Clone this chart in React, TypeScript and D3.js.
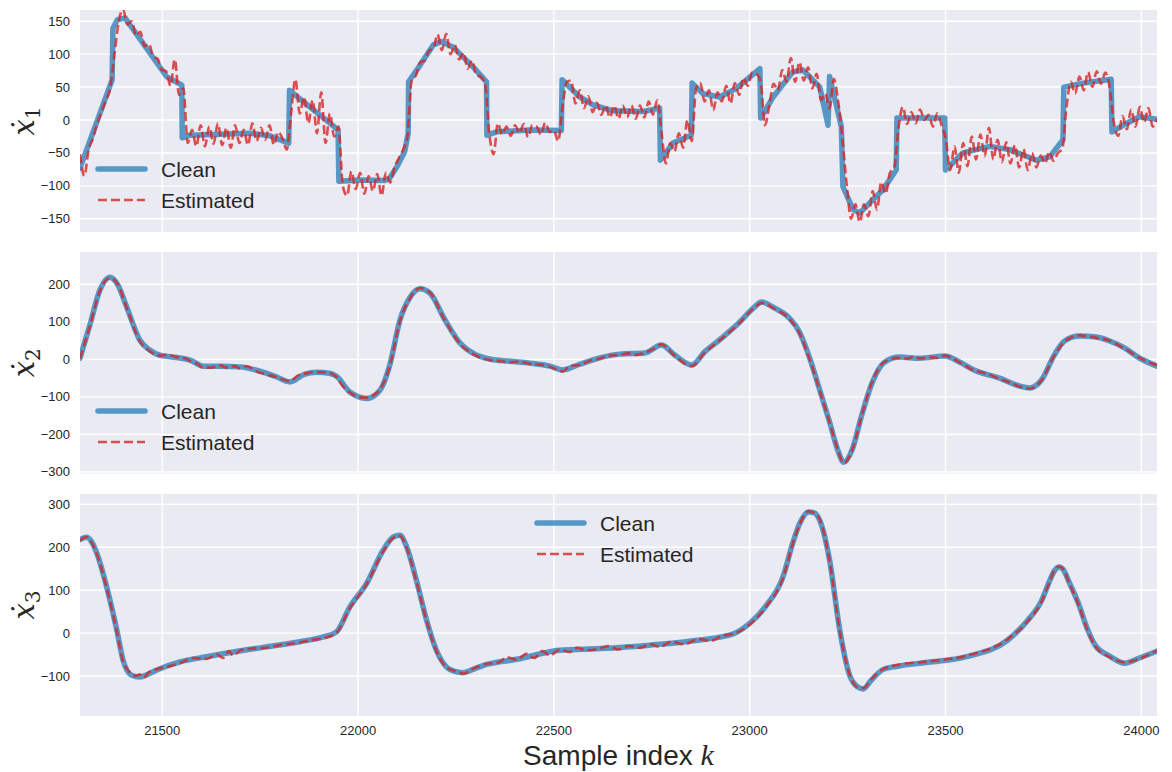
import React from 'react';
import * as d3 from 'd3';

type Pt = [number, number];

const X_DOMAIN: [number, number] = [21290, 24040];
const X_TICKS = [21500, 22000, 22500, 23000, 23500, 24000];
const Y1_TICKS = [-150, -100, -50, 0, 50, 100, 150];
const Y2_TICKS = [-300, -200, -100, 0, 100, 200];
const Y3_TICKS = [-100, 0, 100, 200, 300];
const SERIES_NAMES = ['Clean', 'Estimated'];
const X_LABEL = 'Sample index ';

const clean1: Pt[] = [
  [21290, -73], [21372, 61], [21374, 139], [21385, 152], [21405, 155], [21511, 66], [21550, 53],
  [21551, -27], [21571, -23], [21724, -20], [21775, -24], [21823, -35], [21825, 45], [21949, -15],
  [21951, -93], [22005, -91], [22068, -92], [22081, -88], [22100, -70], [22119, -48], [22128, -20],
  [22129, 58], [22158, 83], [22192, 114], [22213, 119], [22242, 111], [22293, 81], [22328, 58],
  [22329, -23], [22354, -18], [22439, -15], [22519, -16], [22521, 61], [22566, 35], [22600, 23],
  [22651, 14], [22728, 13], [22770, 18], [22772, -61], [22804, -35], [22851, -23], [22853, 56],
  [22881, 40], [22923, 35], [22966, 48], [23026, 78], [23028, 3], [23060, 35], [23110, 73],
  [23136, 76], [23179, 50], [23200, -8], [23204, 66], [23234, -10], [23238, -101], [23264, -136],
  [23281, -141], [23340, -106], [23374, -76], [23376, 3], [23498, 3], [23500, -76], [23544, -50],
  [23613, -40], [23664, -45], [23732, -61], [23766, -56], [23800, -30], [23802, 50], [23851, 56],
  [23923, 62], [23925, -18], [23953, -8], [23995, 5], [24040, 1],
];

const est1: Pt[] = [
  [21290, -52], [21301, -85], [21312, -45], [21323, -28], [21334, -5], [21345, 12], [21356, 30], [21367, 48],
  [21378, 100], [21389, 150], [21400, 168], [21411, 145], [21422, 150], [21433, 128], [21444, 134], [21455, 112],
  [21466, 116], [21477, 96], [21488, 93], [21499, 76], [21510, 74], [21521, 52], [21532, 92], [21543, 38],
  [21554, 48], [21565, -35], [21576, -15], [21587, -40], [21598, -8], [21609, -40], [21620, -10], [21631, -36],
  [21642, -5], [21653, -38], [21664, -12], [21675, -42], [21686, -8], [21697, -35], [21708, -15], [21719, -38],
  [21730, -5], [21741, -32], [21752, -12], [21763, -30], [21774, -8], [21785, -38], [21796, -18], [21807, -28],
  [21818, -45], [21829, 10], [21840, 62], [21851, 10], [21862, 35], [21873, -5], [21884, 30], [21895, -20],
  [21906, 42], [21917, -35], [21928, 10], [21939, -25], [21950, -10], [21961, -100], [21972, -115], [21983, -78],
  [21994, -105], [22005, -80], [22016, -112], [22027, -85], [22038, -108], [22049, -82], [22060, -115], [22071, -80],
  [22082, -95], [22093, -72], [22104, -58], [22115, -45], [22126, -25], [22137, 60], [22148, 68], [22159, 88],
  [22170, 90], [22181, 105], [22192, 108], [22203, 130], [22214, 106], [22225, 131], [22236, 100], [22247, 114],
  [22258, 92], [22269, 102], [22280, 78], [22291, 90], [22302, 68], [22313, 66], [22324, 55], [22335, -20],
  [22346, -52], [22357, -5], [22368, -22], [22379, -10], [22390, -24], [22401, -8], [22412, -20], [22423, -6],
  [22434, -26], [22445, -8], [22456, -10], [22467, -22], [22478, -4], [22489, -18], [22500, -16], [22511, -32],
  [22522, 20], [22533, 58], [22544, 60], [22555, 25], [22566, 45], [22577, 18], [22588, 36], [22599, 12],
  [22610, 26], [22621, 8], [22632, 22], [22643, 4], [22654, 22], [22665, 2], [22676, 22], [22687, 4],
  [22698, 22], [22709, 2], [22720, 22], [22731, 4], [22742, 28], [22753, 8], [22764, 30], [22775, -20],
  [22786, -66], [22797, -35], [22808, -48], [22819, -20], [22830, -42], [22841, 0], [22852, -32], [22863, 48],
  [22874, 56], [22885, 28], [22896, 45], [22907, 15], [22918, 42], [22929, 28], [22940, 52], [22951, 25],
  [22962, 56], [22973, 38], [22984, 64], [22995, 52], [23006, 72], [23017, 70], [23028, 58], [23039, -8],
  [23050, 22], [23061, 55], [23072, 45], [23083, 76], [23094, 58], [23105, 94], [23116, 58], [23127, 88],
  [23138, 60], [23149, 80], [23160, 48], [23171, 70], [23182, 30], [23193, 40], [23204, 18], [23215, 62],
  [23226, 28], [23237, -30], [23248, -100], [23259, -150], [23270, -128], [23281, -155], [23292, -128], [23303, -146],
  [23314, -108], [23325, -136], [23336, -94], [23347, -112], [23358, -80], [23369, -72], [23380, -12], [23391, 20],
  [23402, -6], [23413, 12], [23424, -5], [23435, 16], [23446, 0], [23457, 8], [23468, -10], [23479, 10],
  [23490, -8], [23501, -30], [23512, -76], [23523, -40], [23534, -80], [23545, -35], [23556, -70], [23567, -25],
  [23578, -60], [23589, -22], [23600, -55], [23611, -12], [23622, -60], [23633, -30], [23644, -64], [23655, -34],
  [23666, -66], [23677, -38], [23688, -72], [23699, -44], [23710, -76], [23721, -50], [23732, -72], [23743, -54],
  [23754, -66], [23765, -48], [23776, -62], [23787, -50], [23798, -44], [23809, 20], [23820, 58], [23831, 40],
  [23842, 66], [23853, 45], [23864, 73], [23875, 50], [23886, 74], [23897, 55], [23908, 72], [23919, 50],
  [23930, -5], [23941, -24], [23952, 6], [23963, -14], [23974, 16], [23985, -10], [23996, 20], [24007, -4],
  [24018, 18], [24029, -10], [24040, 2],
];

const clean2: Pt[] = [
  [21290, 3], [21315, 91], [21341, 185], [21366, 219], [21387, 198], [21409, 140], [21443, 51], [21468, 25],
  [21494, 11], [21537, 5], [21571, -2], [21605, -18], [21647, -18], [21698, -20], [21741, -29], [21788, -45],
  [21826, -60], [21864, -39], [21894, -34], [21927, -37], [21945, -45], [21979, -87], [22022, -104], [22056, -82],
  [22081, -15], [22107, 105], [22132, 164], [22158, 188], [22183, 177], [22222, 105], [22260, 44], [22298, 14],
  [22336, 1], [22387, -5], [22439, -10], [22490, -18], [22523, -28], [22566, -13], [22617, 4], [22668, 14],
  [22732, 17], [22775, 38], [22808, 12], [22852, -15], [22885, 20], [22923, 52], [22974, 99], [23012, 139],
  [23030, 153], [23063, 137], [23101, 110], [23127, 73], [23153, 4], [23179, -82], [23204, -167], [23225, -242],
  [23240, -274], [23261, -242], [23286, -149], [23312, -64], [23345, -7], [23383, 6], [23434, 3], [23498, 9],
  [23536, -7], [23574, -29], [23638, -50], [23689, -71], [23715, -76], [23745, -55], [23778, 12], [23804, 49],
  [23842, 62], [23881, 60], [23919, 49], [23958, 30], [23996, 3], [24040, -18],
];

const est2: Pt[] = [
  [21290, 2], [21315, 88], [21341, 183], [21366, 217], [21387, 199], [21409, 138], [21443, 48], [21468, 22],
  [21494, 10], [21515, 12], [21537, 6], [21560, 2], [21571, -4], [21590, -12], [21605, -22], [21625, -22],
  [21647, -16], [21665, -22], [21685, -18], [21698, -24], [21715, -18], [21741, -32], [21765, -40], [21788, -46],
  [21826, -58], [21845, -44], [21864, -38], [21894, -34], [21927, -36], [21945, -47], [21960, -70], [21979, -88],
  [22000, -100], [22022, -102], [22040, -95], [22056, -80], [22081, -18], [22107, 102], [22132, 162], [22158, 190],
  [22183, 178], [22222, 103], [22260, 42], [22298, 12], [22336, -2], [22360, -4], [22387, -8], [22410, -6],
  [22439, -12], [22465, -14], [22490, -20], [22505, -26], [22523, -32], [22540, -18], [22566, -15], [22590, -4],
  [22617, 2], [22640, 10], [22668, 12], [22690, 16], [22710, 12], [22732, 18], [22755, 28], [22775, 40],
  [22808, 10], [22852, -18], [22885, 18], [22923, 50], [22974, 97], [23012, 138], [23030, 150], [23063, 135],
  [23101, 108], [23127, 70], [23153, 0], [23179, -84], [23204, -168], [23225, -240], [23240, -276], [23261, -244],
  [23286, -150], [23312, -62], [23345, -6], [23383, 4], [23405, 2], [23420, 8], [23434, 2], [23460, 6],
  [23480, 4], [23498, 10], [23536, -8], [23574, -30], [23600, -36], [23638, -52], [23665, -62], [23689, -72],
  [23715, -78], [23745, -56], [23778, 10], [23804, 48], [23820, 58], [23842, 64], [23881, 58], [23919, 50],
  [23958, 28], [23996, 4], [24015, -6], [24030, -12], [24040, -14],
];

const clean3: Pt[] = [
  [21290, 218], [21307, 223], [21320, 212], [21333, 186], [21358, 108], [21384, 7], [21400, -63], [21422, -98],
  [21443, -102], [21465, -95], [21486, -86], [21545, -67], [21613, -55], [21681, -44], [21766, -32], [21851, -20],
  [21911, -9], [21945, 3], [21979, 61], [22022, 116], [22064, 193], [22090, 224], [22107, 228], [22124, 201],
  [22149, 123], [22175, 30], [22200, -40], [22226, -79], [22247, -89], [22268, -92], [22300, -82], [22328, -73],
  [22405, -61], [22515, -40], [22617, -36], [22745, -28], [22872, -16], [22957, -2], [23000, 23], [23043, 65],
  [23085, 131], [23110, 210], [23128, 256], [23150, 282], [23165, 280], [23180, 260], [23204, 170], [23230, 7],
  [23255, -98], [23275, -125], [23290, -130], [23310, -110], [23340, -85], [23378, -77], [23455, -68], [23557, -54],
  [23659, -16], [23710, 30], [23745, 75], [23765, 120], [23778, 145], [23790, 154], [23802, 146], [23815, 120],
  [23839, 70], [23862, 10], [23882, -28], [23920, -54], [23957, -70], [23995, -58], [24040, -42],
];

const est3: Pt[] = [
  [21290, 216], [21307, 224], [21320, 210], [21333, 184], [21358, 105], [21384, 4], [21400, -66], [21422, -95],
  [21432, -100], [21443, -96], [21452, -104], [21465, -92], [21486, -84], [21515, -78], [21545, -70], [21580, -58],
  [21613, -60], [21640, -50], [21655, -58], [21670, -42], [21681, -52], [21700, -40], [21730, -36], [21766, -34],
  [21800, -28], [21851, -22], [21880, -16], [21911, -12], [21945, 1], [21979, 58], [22022, 114], [22064, 190],
  [22090, 222], [22107, 226], [22124, 199], [22149, 120], [22175, 28], [22200, -42], [22226, -80], [22247, -88],
  [22268, -94], [22300, -80], [22328, -72], [22360, -68], [22380, -56], [22405, -62], [22430, -48], [22450, -58],
  [22470, -42], [22490, -52], [22515, -38], [22540, -44], [22560, -34], [22580, -40], [22617, -36], [22640, -30],
  [22665, -38], [22690, -30], [22720, -34], [22745, -26], [22770, -32], [22800, -20], [22830, -26], [22872, -14],
  [22900, -18], [22930, -6], [22957, -2], [23000, 20], [23043, 63], [23085, 128], [23110, 208], [23128, 254],
  [23150, 284], [23165, 280], [23180, 262], [23204, 168], [23230, 5], [23255, -96], [23275, -126], [23290, -128],
  [23310, -108], [23340, -84], [23378, -74], [23455, -66], [23557, -52], [23659, -14], [23710, 28], [23745, 73],
  [23765, 118], [23778, 146], [23790, 155], [23802, 147], [23815, 118], [23839, 68], [23862, 8], [23882, -30],
  [23920, -56], [23957, -68], [23995, -60], [24040, -40],
];

const W = 1172;
const H = 772;
const LEFT = 80;
const RIGHT = 1157;
const BG = '#EAEAF2';
const TEXT = '#262626';
const BLUE = '#1f77b4';
const RED = '#d62728';

interface Panel {
  top: number;
  bottom: number;
  domain: [number, number];
  ticks: number[];
  clean: Pt[];
  est: Pt[];
  smooth: boolean;
  sub: string;
  legend: { lx: number; y: number };
}

const panels: Panel[] = [
  { top: 10, bottom: 232, domain: [-170, 167], ticks: Y1_TICKS, clean: clean1, est: est1, smooth: false, sub: '1', legend: { lx: 98, y: 169 } },
  { top: 252, bottom: 473.5, domain: [-304, 286], ticks: Y2_TICKS, clean: clean2, est: est2, smooth: true, sub: '2', legend: { lx: 98, y: 411 } },
  { top: 494, bottom: 716, domain: [-193, 324], ticks: Y3_TICKS, clean: clean3, est: est3, smooth: true, sub: '3', legend: { lx: 537, y: 523 } },
];

const fmt = (v: number) => (v < 0 ? '\u2212' + Math.abs(v) : String(v));

export default function App() {
  const x = d3.scaleLinear().domain(X_DOMAIN).range([LEFT, RIGHT]);
  const sans = "'Liberation Sans', Arial, sans-serif";
  return (
    <svg width={W} height={H} style={{ position: 'absolute', left: 0, top: 0, background: '#fff' }} fontFamily={sans}>
      <defs>
        {panels.map((p, i) => (
          <clipPath id={`clip${i}`} key={i}>
            <rect x={LEFT} y={p.top} width={RIGHT - LEFT} height={p.bottom - p.top} />
          </clipPath>
        ))}
      </defs>
      {panels.map((p, i) => {
        const y = d3.scaleLinear().domain(p.domain).range([p.bottom, p.top]);
        const lineC = d3.line<Pt>().x(d => x(d[0])).y(d => y(d[1])).curve(p.smooth ? d3.curveMonotoneX : d3.curveLinear);
        const lineE = d3.line<Pt>().x(d => x(d[0])).y(d => y(d[1])).curve(d3.curveMonotoneX);
        const cy = (p.top + p.bottom) / 2;
        return (
          <g key={i}>
            <rect x={LEFT} y={p.top} width={RIGHT - LEFT} height={p.bottom - p.top} fill={BG} />
            {p.ticks.map(t => (
              <line key={'h' + t} x1={LEFT} x2={RIGHT} y1={y(t)} y2={y(t)} stroke="#fff" strokeWidth={1.4} />
            ))}
            {X_TICKS.map(t => (
              <line key={'v' + t} x1={x(t)} x2={x(t)} y1={p.top} y2={p.bottom} stroke="#fff" strokeWidth={1.4} />
            ))}
            {p.ticks.map(t => (
              <text key={'yt' + t} x={70} y={y(t)} textAnchor="end" dominantBaseline="central" fontSize={13} fill={TEXT}>
                {fmt(t)}
              </text>
            ))}
            {i === 2 && X_TICKS.map(t => (
              <text key={'xt' + t} x={x(t)} y={735} textAnchor="middle" fontSize={13} fill={TEXT}>
                {t}
              </text>
            ))}
            <g clipPath={`url(#clip${i})`}>
              <path d={lineC(p.clean) || ''} fill="none" stroke={BLUE} strokeOpacity={0.72} strokeWidth={5.5} strokeLinejoin="round" strokeLinecap="round" />
              <path d={lineE(p.est) || ''} fill="none" stroke={RED} strokeOpacity={0.8} strokeWidth={2.6} strokeDasharray="9,4" strokeLinejoin="round" />
            </g>
            <text transform={`translate(34,${cy}) rotate(-90)`} textAnchor="middle" fill={TEXT} fontFamily="'DejaVu Serif', serif">
              <tspan fontStyle="italic" fontSize={29}>{'\u1E8B'}</tspan>
              <tspan fontSize={20} dy={6}>{p.sub}</tspan>
            </text>
            <g>
              <line x1={p.legend.lx} x2={p.legend.lx + 47} y1={p.legend.y} y2={p.legend.y} stroke={BLUE} strokeOpacity={0.72} strokeWidth={5.5} strokeLinecap="round" />
              <text x={p.legend.lx + 63} y={p.legend.y} dominantBaseline="central" fontSize={21} fill={TEXT}>{SERIES_NAMES[0]}</text>
              <line x1={p.legend.lx} x2={p.legend.lx + 47} y1={p.legend.y + 31} y2={p.legend.y + 31} stroke={RED} strokeOpacity={0.8} strokeWidth={2.6} strokeDasharray="9,4" />
              <text x={p.legend.lx + 63} y={p.legend.y + 31} dominantBaseline="central" fontSize={21} fill={TEXT}>{SERIES_NAMES[1]}</text>
            </g>
          </g>
        );
      })}
      <text x={(LEFT + RIGHT) / 2} y={765} textAnchor="middle" fontSize={28} fill={TEXT}>
        {X_LABEL}
        <tspan fontFamily="'Liberation Serif', 'DejaVu Serif', serif" fontStyle="italic" fontSize={30}>k</tspan>
      </text>
    </svg>
  );
}
